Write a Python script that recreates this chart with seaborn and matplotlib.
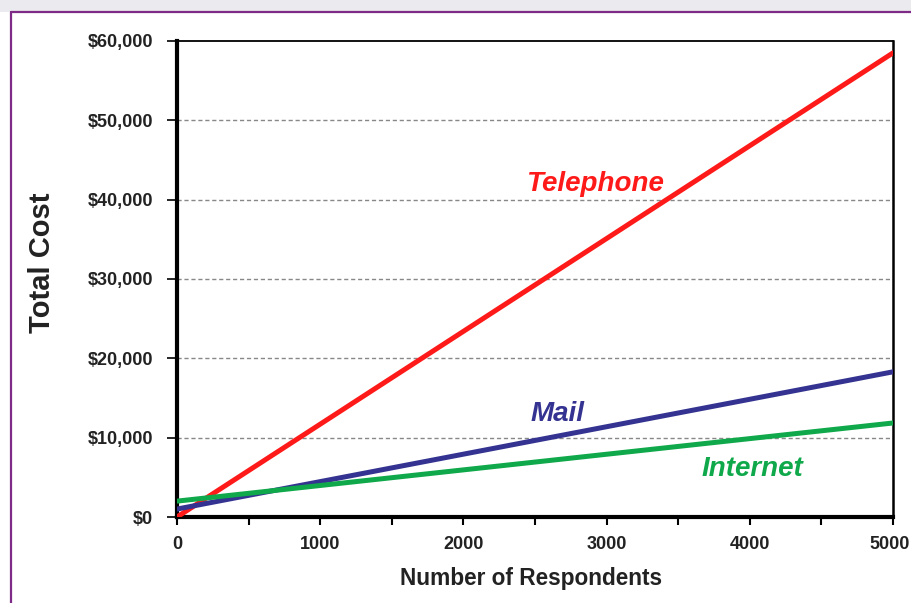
import matplotlib
matplotlib.use("Agg")
import matplotlib.pyplot as plt
import matplotlib.transforms as mtransforms
import seaborn as sns
import pandas as pd
from matplotlib.patches import Rectangle
from matplotlib.lines import Line2D

respondents = [0, 5000]
telephone = [0, 58500]
mail = [1000, 18300]
internet = [2000, 11850]
series_names = ["Telephone", "Mail", "Internet"]
colors = {"Telephone": "#ff1a1a", "Mail": "#343391", "Internet": "#0fa84a"}
x_ticks = [0, 1000, 2000, 3000, 4000, 5000]
y_ticks = [0, 10000, 20000, 30000, 40000, 50000, 60000]
y_tick_labels = ["$0", "$10,000", "$20,000", "$30,000", "$40,000", "$50,000", "$60,000"]

sns.set_theme(style="white")
plt.rcParams['font.family'] = ['Liberation Sans', 'DejaVu Sans']

df = pd.DataFrame({
    "Respondents": respondents * 3,
    "Cost": telephone + mail + internet,
    "Method": [s for s in series_names for _ in respondents],
})

fig = plt.figure(figsize=(9.11, 6.03), dpi=100)
fig.patch.set_facecolor("white")
# top gray strip and purple frame
fig.patches.append(Rectangle((0, 1 - 12/603), 1, 12/603, transform=fig.transFigure,
                             facecolor="#ebebef", edgecolor="none", zorder=0))
fig.lines.append(Line2D([11/911, 1], [1 - 12/603, 1 - 12/603], transform=fig.transFigure,
                        color="#7d2b86", lw=1.6))
fig.lines.append(Line2D([11/911, 11/911], [0, 1 - 12/603], transform=fig.transFigure,
                        color="#7d2b86", lw=1.6))

ax = fig.add_axes([177/911, 86/603, (893-177)/911, (517-41)/603])
sns.lineplot(data=df, x="Respondents", y="Cost", hue="Method", palette=colors,
             linewidth=3.6, ax=ax, legend=False, zorder=3)

ax.set_xlim(0, 5000)
ax.set_ylim(0, 60000)
ax.set_xticks(x_ticks)
ax.set_xticks([500, 1500, 2500, 3500, 4500], minor=True)
ax.set_yticks(y_ticks)
ax.set_yticklabels(y_tick_labels)
ax.tick_params(axis="x", which="both", direction="out", length=6, width=1.5,
               color="black", bottom=True, labelsize=13, pad=8)
ax.tick_params(axis="y", which="major", direction="out", length=7, width=1.2,
               color="black", left=True, labelsize=13, pad=10)
for lab in ax.get_xticklabels() + ax.get_yticklabels():
    lab.set_fontweight("bold")
    lab.set_color("#222222")

# nudge the last x tick label so it stays inside the figure
last = ax.get_xticklabels()[-1]
last.set_transform(last.get_transform() +
                   mtransforms.ScaledTranslation(-3/100, 0, fig.dpi_scale_trans))

for y in y_ticks[1:-1]:
    ax.axhline(y, color="#888888", lw=1.0, ls=(0, (3, 2)), zorder=1)

ax.spines["left"].set_linewidth(3)
ax.spines["bottom"].set_linewidth(3)
ax.spines["right"].set_linewidth(1.8)
ax.spines["top"].set_linewidth(1.3)
for s in ax.spines.values():
    s.set_color("black")

ax.set_xlabel("Number of Respondents", fontsize=16.3, fontweight="bold", color="#222222")
ax.xaxis.set_label_coords((531-177)/716, -(579-517)/476)
ax.xaxis.label.set_va("center")
ax.set_ylabel("Total Cost", fontsize=21, fontweight="bold", color="#222222")
ax.yaxis.set_label_coords(-(177-56)/716, (517-263)/476)

ax.text(2919, 41950, "Telephone", color=colors["Telephone"], fontsize=20,
        fontweight="bold", fontstyle="italic", ha="center", va="center")
ax.text(2654, 12960, "Mail", color=colors["Mail"], fontsize=20,
        fontweight="bold", fontstyle="italic", ha="center", va="center")
ax.text(4015, 6080, "Internet", color=colors["Internet"], fontsize=20,
        fontweight="bold", fontstyle="italic", ha="center", va="center")

fig.savefig("out.png", dpi=100)
